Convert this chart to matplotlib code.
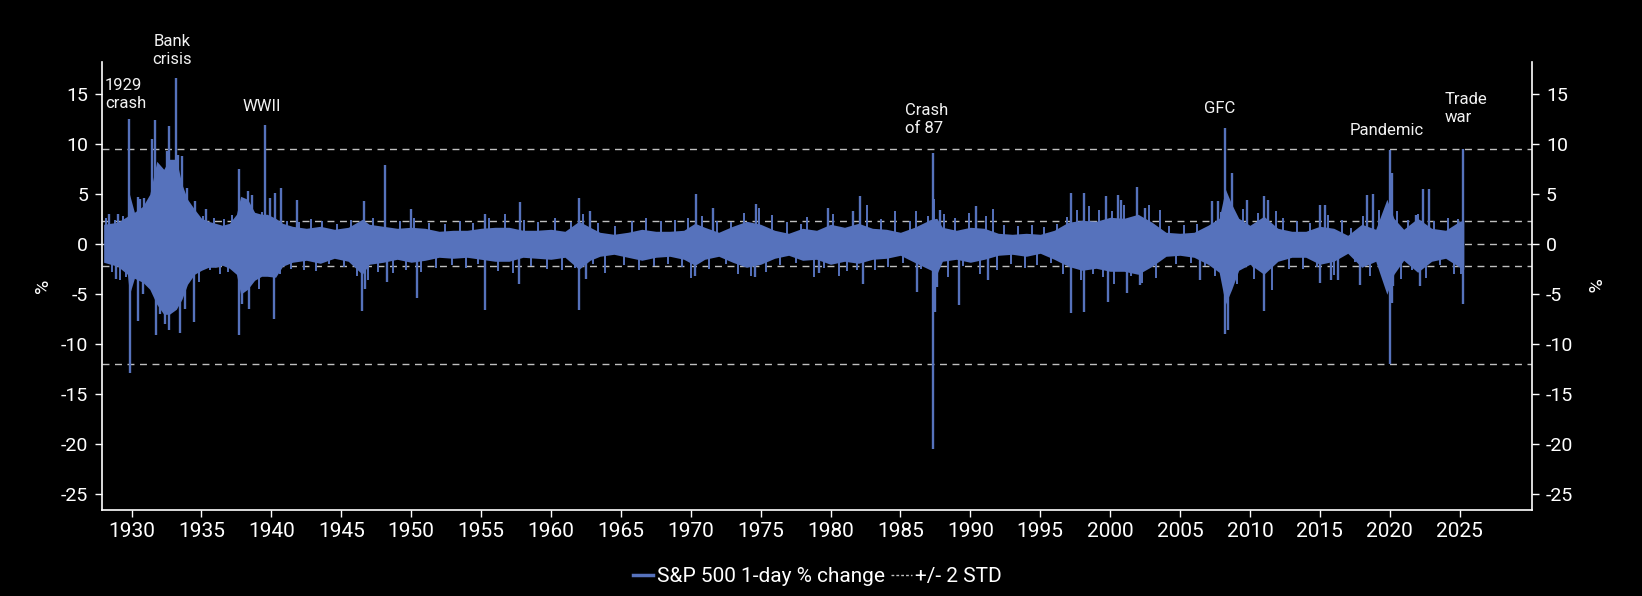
import matplotlib
matplotlib.use("Agg")
import matplotlib.pyplot as plt
from matplotlib.lines import Line2D

# Dark chart style
BG = "#000000"
BLUE = "#5672BC"
GREY = "#BFBFBF"
FONT = ["Roboto", "DejaVu Sans"]

plt.rcParams.update({
    "font.family": FONT,
    "axes.unicode_minus": False,
    "figure.facecolor": BG, "axes.facecolor": BG, "savefig.facecolor": BG,
    "text.color": "white", "axes.edgecolor": "white",
    "xtick.color": "white", "ytick.color": "white",
})

# ---- data (x = year, y = 1-day % change) ----
# dense daily core: upper / lower edge of the band
env_year = [1928.0, 1929.0, 1929.7, 1929.85, 1930.2, 1930.8, 1931.3, 1931.8, 1932.3, 1932.7,
            1933.2, 1933.6, 1934.0, 1934.5, 1935.0, 1935.5, 1936.0, 1936.5, 1937.0, 1937.5,
            1937.8, 1938.3, 1938.8, 1939.3, 1939.7, 1940.3, 1940.8, 1941.5, 1942.5, 1943.5,
            1944.5, 1945.5, 1946.5, 1947.0, 1948.0, 1949.0, 1950.0, 1951.0, 1952.0, 1953.0,
            1954.0, 1955.0, 1956.0, 1957.0, 1958.0, 1959.0, 1960.0, 1961.0, 1962.0, 1962.8,
            1963.5, 1964.5, 1965.5, 1966.5, 1967.5, 1968.5, 1969.5, 1970.3, 1971.0, 1972.0,
            1973.0, 1974.0, 1975.0, 1976.0, 1977.0, 1978.0, 1979.0, 1980.0, 1981.0, 1982.0,
            1983.0, 1984.0, 1985.0, 1986.0, 1987.2, 1987.6, 1988.0, 1989.0, 1990.0, 1991.0,
            1992.0, 1993.0, 1994.0, 1995.0, 1996.0, 1997.0, 1998.0, 1999.0, 2000.0, 2001.0,
            2002.0, 2003.0, 2004.0, 2005.0, 2006.0, 2007.0, 2007.8, 2008.25, 2008.7, 2009.2,
            2010.0, 2011.0, 2012.0, 2013.0, 2014.0, 2015.0, 2016.0, 2017.0, 2018.0, 2019.0,
            2019.8, 2020.3, 2021.0, 2022.0, 2023.0, 2024.0, 2025.0, 2025.3]
env_high = [2.0, 2.2, 2.8, 5.0, 3.2, 3.8, 5.0, 8.3, 7.5, 8.5,
            8.5, 6.0, 4.5, 3.5, 2.6, 2.3, 2.1, 1.9, 2.1, 3.0,
            4.8, 4.5, 3.2, 3.0, 3.0, 2.6, 2.1, 1.8, 1.6, 1.8,
            1.5, 1.7, 2.5, 2.0, 1.8, 1.6, 1.7, 1.6, 1.3, 1.4,
            1.4, 1.6, 1.7, 1.7, 1.4, 1.4, 1.5, 1.3, 2.3, 1.7,
            1.2, 1.0, 1.2, 1.5, 1.3, 1.3, 1.4, 2.1, 1.7, 1.2,
            1.8, 2.3, 2.0, 1.4, 1.1, 1.6, 1.4, 2.0, 1.7, 2.1,
            1.6, 1.5, 1.2, 1.7, 2.5, 2.6, 1.7, 1.4, 1.7, 1.6,
            1.1, 1.0, 1.1, 1.0, 1.4, 2.2, 2.4, 2.3, 2.7, 2.6,
            3.0, 2.2, 1.2, 1.1, 1.2, 1.9, 2.6, 5.5, 4.0, 2.6,
            1.9, 2.8, 1.6, 1.3, 1.3, 1.8, 1.6, 0.9, 2.0, 1.5,
            4.5, 2.6, 1.5, 2.6, 1.6, 1.4, 2.3, 2.4]
env_low = [-1.8, -2.2, -3.0, -5.0, -3.4, -3.8, -4.5, -6.0, -7.0, -7.0,
           -6.5, -5.5, -4.0, -3.0, -2.6, -2.3, -2.3, -2.1, -2.4, -3.0,
           -5.0, -4.5, -3.6, -3.2, -3.2, -3.3, -2.2, -1.8, -1.6, -1.9,
           -1.4, -1.7, -3.0, -2.0, -1.8, -1.5, -1.8, -1.6, -1.3, -1.4,
           -1.3, -1.5, -1.7, -1.7, -1.3, -1.4, -1.5, -1.3, -2.5, -1.6,
           -1.2, -1.0, -1.3, -1.6, -1.3, -1.2, -1.5, -2.1, -1.5, -1.2,
           -1.8, -2.3, -2.0, -1.4, -1.1, -1.6, -1.5, -2.0, -1.7, -1.9,
           -1.5, -1.4, -1.1, -1.8, -2.6, -3.0, -1.7, -1.5, -1.8, -1.5,
           -1.1, -1.0, -1.2, -0.9, -1.5, -2.2, -2.6, -2.4, -2.7, -2.7,
           -3.0, -2.2, -1.2, -1.1, -1.3, -2.0, -2.8, -6.0, -4.5, -2.6,
           -2.0, -3.0, -1.7, -1.3, -1.3, -2.0, -1.7, -0.9, -2.3, -1.7,
           -5.0, -3.0, -1.6, -2.8, -1.7, -1.4, -2.3, -2.5]

# individual large daily moves standing out of the band
spike_year = [1928.4, 1929.0, 1929.83, 1930.43, 1930.6, 1930.9, 1931.43, 1931.7, 1932.5, 1932.67,
              1933.15, 1933.3, 1933.6, 1933.93, 1934.5, 1935.3, 1937.67, 1938.3, 1938.6, 1939.53,
              1939.9, 1940.25, 1940.68, 1941.8, 1946.6, 1948.1, 1950.0, 1955.3, 1957.8, 1962.0,
              1962.8, 1970.4, 1971.6, 1974.7, 1979.8, 1981.6, 1982.1, 1987.32, 1987.8, 1990.4,
              1997.2, 1998.1, 1999.7, 2000.55, 2000.8, 2001.9, 2002.5, 2007.3, 2007.7, 2008.25,
              2008.72, 2009.8, 2011.0, 2011.3, 2015.0, 2015.4, 2018.4, 2018.8, 2020.05, 2020.15,
              2021.9, 2022.4, 2022.8, 2025.27,
              1928.9, 1929.86, 1930.43, 1930.8, 1931.72, 1932.0, 1932.38, 1932.67, 1933.45, 1933.8,
              1934.48, 1937.67, 1937.9, 1938.4, 1940.2, 1946.45, 1946.7, 1948.3, 1950.4, 1955.3,
              1957.7, 1962.0, 1962.5, 1970.3, 1974.6, 1979.2, 1982.3, 1986.2, 1987.32, 1987.5,
              1987.6, 1989.2, 1991.3, 1997.2, 1998.1, 1999.85, 2001.2, 2002.15, 2006.4, 2008.25,
              2008.4, 2011.0, 2015.0, 2015.8, 2016.3, 2017.9, 2020.05, 2020.2, 2020.25, 2022.2,
              2025.27]
spike_pct = [3.0, 3.0, 12.5, 4.7, 4.5, 4.6, 10.5, 12.4, 9.3, 11.8,
             16.6, 8.9, 8.8, 5.6, 4.3, 3.5, 7.5, 5.3, 4.9, 11.9,
             4.6, 5.1, 5.6, 4.4, 4.3, 7.9, 3.5, 3.0, 4.2, 4.6,
             3.3, 5.0, 3.6, 4.0, 3.6, 3.3, 4.8, 9.1, 3.4, 3.8,
             5.1, 5.1, 4.8, 4.9, 4.4, 5.7, 3.6, 4.3, 4.3, 11.6,
             7.1, 4.4, 4.8, 4.4, 3.9, 3.9, 4.9, 5.0, 9.4, 7.1,
             2.9, 5.5, 5.5, 9.5,
             -3.5, -12.9, -7.7, -5.0, -9.1, -7.0, -8.0, -8.6, -8.9, -6.5,
             -7.8, -9.1, -6.0, -6.5, -7.5, -6.7, -4.5, -3.8, -5.4, -6.6,
             -4.0, -6.6, -3.5, -3.2, -3.3, -2.9, -4.0, -4.8, -20.5, -6.8,
             -4.3, -6.1, -3.6, -6.9, -6.8, -5.8, -4.9, -4.1, -3.6, -9.0,
             -8.6, -6.7, -3.9, -3.6, -3.6, -4.1, -12.0, -5.9, -4.2, -4.2,
             -6.0]

# smaller moves that give the band its ragged edge
minor_year = [1928.2, 1928.6, 1928.8, 1929.2, 1929.4, 1929.6, 1934.8, 1935.1, 1935.6, 1935.9,
              1936.3, 1936.6, 1936.9, 1937.2, 1939.1, 1939.3, 1940.6, 1941.1, 1941.4, 1942.0,
              1942.3, 1942.8, 1943.2, 1943.6, 1944.1, 1944.7, 1945.2, 1945.7, 1946.1, 1946.9,
              1947.3, 1947.6, 1948.7, 1949.2, 1949.6, 1950.2, 1950.7, 1951.3, 1951.8, 1952.4,
              1952.9, 1953.5, 1953.9, 1954.4, 1954.8, 1955.6, 1956.2, 1956.7, 1957.3, 1958.1,
              1958.6, 1959.1, 1959.7, 1960.3, 1960.8, 1961.4, 1961.7, 1962.3, 1963.0, 1963.4,
              1963.9, 1964.6, 1965.2, 1965.8, 1966.3, 1966.8, 1967.4, 1967.9, 1968.4, 1968.9,
              1969.4, 1969.8, 1970.0, 1970.8, 1971.3, 1971.9, 1972.5, 1972.9, 1973.4, 1973.8,
              1974.3, 1974.9, 1975.4, 1975.8, 1976.4, 1976.9, 1977.5, 1977.9, 1978.3, 1978.8,
              1979.5, 1980.2, 1980.6, 1981.2, 1981.9, 1982.6, 1983.2, 1983.6, 1984.1, 1984.6,
              1985.2, 1985.7, 1986.1, 1986.5, 1987.0, 1987.4, 1988.1, 1988.4, 1988.9, 1989.5,
              1989.9, 1990.7, 1991.1, 1991.6, 1991.9, 1992.4, 1992.9, 1993.4, 1993.9, 1994.4,
              1994.8, 1995.3, 1995.8, 1996.2, 1996.6, 1996.9, 1997.6, 1997.9, 1998.5, 1998.8,
              1999.2, 1999.5, 2000.1, 2000.3, 2001.0, 2001.5, 2002.3, 2002.8, 2003.3, 2003.6,
              2004.2, 2004.7, 2005.3, 2005.8, 2006.2, 2006.8, 2007.5, 2007.9, 2009.1, 2009.5,
              2010.3, 2010.6, 2011.6, 2011.9, 2012.4, 2012.8, 2013.4, 2013.8, 2014.3, 2014.8,
              2015.6, 2016.0, 2016.6, 2017.2, 2017.5, 2018.1, 2018.6, 2019.2, 2019.5, 2020.5,
              2020.8, 2021.3, 2021.6, 2022.0, 2022.6, 2023.2, 2023.6, 2024.2, 2024.6, 2024.9,
              2025.1]
minor_pct = [2.6, -2.8, 2.4, -3.6, 2.8, -3.3, -3.8, 2.8, -2.6, 2.6,
             -3.0, 2.5, -2.8, 2.9, -4.5, 3.2, -3.0, 2.3, -2.5, 2.2,
             -2.6, 2.5, -2.7, 2.3, -2.0, 2.0, -2.3, 2.4, -3.2, -3.6,
             2.6, -2.8, -2.9, 2.3, -2.6, 2.6, -2.8, 2.1, -2.4, 2.0,
             -2.1, 2.3, -2.4, 2.1, -2.0, 2.6, -2.7, 3.0, -2.9, 2.4,
             -2.2, 2.2, -2.5, 2.6, -2.6, 2.2, -2.4, 3.0, -2.0, 2.1,
             -2.9, 1.8, -2.1, 2.3, -2.6, 2.6, -2.2, 2.3, -2.0, 2.4,
             -2.3, 2.6, -3.4, 2.8, -2.5, 2.3, -2.0, 2.2, -3.0, 3.1,
             -3.2, 3.6, -2.8, 2.9, -2.1, 2.2, -1.9, 2.0, 2.7, -3.3,
             -2.4, 3.0, -3.2, -2.7, -2.6, 3.9, -2.6, 2.5, -2.3, 3.3,
             -1.9, 2.3, 3.3, -2.5, 2.8, 4.5, 3.0, -3.3, 2.6, -2.2,
             3.1, -3.0, 2.8, 3.5, -2.6, 1.9, -2.0, 1.8, -2.4, 1.9,
             -2.1, 1.7, -1.9, 2.0, -3.0, 2.7, 3.4, -3.6, 3.8, -3.0,
             3.4, -3.3, 3.3, -4.0, 3.9, -3.2, -3.9, 3.9, -3.4, 3.4,
             1.8, -2.0, 1.9, -1.9, 2.0, -2.2, -3.2, 3.2, -4.0, 3.5,
             -3.5, 3.1, -4.6, 3.3, 2.6, -2.5, 2.3, -2.5, 2.1, -2.3,
             2.9, -3.1, 2.4, 1.6, -1.8, 2.8, -3.2, 3.4, -3.0, 3.3,
             -3.5, 2.4, -2.6, 3.0, -3.4, 2.3, -2.1, 2.6, -3.0, 2.5,
             -3.0]

# +/- 2 standard deviation guides (and the zero line)
std_levels = [9.5, 2.3, 0.0, -2.2, -12.0]

# event labels: text, year, level, alignment
event_text = ["1929\ncrash", "Bank\ncrisis", "WWII", "Crash\nof 87", "GFC", "Pandemic", "Trade\nwar"]
event_year = [1928.1, 1932.88, 1939.32, 1985.35, 2007.87, 2019.81, 2023.9]
event_level = [15.0, 19.4, 13.8, 12.5, 13.6, 11.4, 13.6]
event_ha = ["left", "center", "center", "left", "center", "center", "left"]

year_ticks = list(range(1930, 2030, 5))
pct_ticks = [15, 10, 5, 0, -5, -10, -15, -20, -25]

# ---- figure ----
fig = plt.figure(figsize=(16.42, 5.96), dpi=100)
ax = fig.add_axes([0.0621, 0.1443, 0.8709, 0.7517])

for lvl in std_levels:
    ax.axhline(lvl, color=GREY, lw=1.0, ls=(0, (5, 4)), zorder=1)

ax.fill_between(env_year, env_low, env_high, color=BLUE, lw=0, zorder=2)
ax.vlines(minor_year, 0, minor_pct, color=BLUE, lw=1.4, zorder=2)
ax.vlines(spike_year, 0, spike_pct, color=BLUE, lw=1.7, zorder=2)

for txt, xv, yv, ha in zip(event_text, event_year, event_level, event_ha):
    ax.text(xv, yv, txt, ha=ha, va="center", fontsize=12, color="#F2F2F2",
            linespacing=1.25, clip_on=False)

ax.set_xlim(1927.88, 2030.18)
ax.set_ylim(-26.57, 18.23)
ax.set_xticks(year_ticks)
ax.set_yticks(pct_ticks)
ax.tick_params(axis="x", labelsize=15, length=5, width=1, pad=4)
ax.tick_params(axis="y", labelsize=14, length=5, width=1, pad=5,
               right=True, labelright=True)
ax.spines["top"].set_visible(False)
for side in ("left", "right", "bottom"):
    ax.spines[side].set_linewidth(1.2)

ax.set_ylabel("%", fontsize=14, color="white", labelpad=6)
ax.text(1.042, 0.5, "%", transform=ax.transAxes, rotation=270, fontsize=14,
        color="white", ha="center", va="center")

handles = [Line2D([], [], color=BLUE, lw=2.5),
           Line2D([], [], color=GREY, lw=1.0, ls=(0, (2, 1.5)))]
fig.legend(handles, ["S&P 500 1-day % change", "+/- 2 STD"], loc="center",
           bbox_to_anchor=(817 / 1642, 1 - 576.7 / 596), ncol=2, frameon=False,
           fontsize=15, handlelength=1.0, handletextpad=0.15, columnspacing=0.3,
           labelcolor="white")

fig.savefig("out.png", dpi=100, facecolor=BG)
